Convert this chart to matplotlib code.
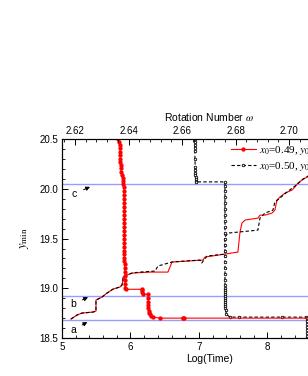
import numpy as np
import matplotlib
matplotlib.use('Agg')
import matplotlib.pyplot as plt
from matplotlib.ticker import MultipleLocator, FormatStrFormatter

plt.rcParams['font.family'] = ['Liberation Sans', 'DejaVu Sans']
plt.rcParams['mathtext.fontset'] = 'stix'

# --- data (Log(Time), y_min) ---
red_pts_x = [5.818, 5.832, 5.840, 5.847, 5.847, 5.847, 5.850, 5.850, 5.855, 5.861,
             5.868, 5.876, 5.884, 5.891, 5.898, 5.905, 5.905, 5.905, 5.908, 5.908,
             5.910, 5.910, 5.912, 5.912, 5.912, 5.912, 5.912, 5.912, 5.912, 5.912,
             5.912, 5.912, 5.912, 5.912, 5.912, 5.915, 5.915, 5.918, 5.918, 5.920,
             5.920, 5.922, 5.930, 6.170, 6.170, 6.175, 6.180, 6.260, 6.260, 6.260,
             6.260, 6.260, 6.265, 6.270, 6.280, 6.300, 6.330, 6.430, 6.760, 6.770,
             6.780, 9.300]
red_pts_y = [20.50, 20.47, 20.44, 20.41, 20.37, 20.34, 20.30, 20.27, 20.24, 20.21,
             20.17, 20.14, 20.11, 20.08, 20.05, 20.02, 19.98, 19.94, 19.90, 19.86,
             19.82, 19.78, 19.74, 19.70, 19.66, 19.62, 19.58, 19.54, 19.50, 19.46,
             19.42, 19.38, 19.34, 19.30, 19.27, 19.24, 19.20, 19.16, 19.12, 19.08,
             19.04, 19.00, 18.99, 18.99, 18.98, 18.96, 18.94, 18.94, 18.90, 18.86,
             18.83, 18.80, 18.77, 18.75, 18.74, 18.72, 18.71, 18.70, 18.70, 18.70,
             18.70, 18.70]

black_pts_x = [6.940, 6.940, 6.940, 6.940, 6.940, 6.942, 6.945, 6.945, 6.948, 6.948,
               6.950, 6.950, 6.955, 6.960, 7.380, 7.380, 7.380, 7.380, 7.380, 7.380,
               7.380, 7.380, 7.380, 7.380, 7.380, 7.380, 7.380, 7.380, 7.380, 7.380,
               7.380, 7.380, 7.380, 7.380, 7.380, 7.380, 7.380, 7.380, 7.380, 7.380,
               7.380, 7.380, 7.385, 7.385, 7.390, 7.400, 7.450, 7.580, 8.220, 8.560,
               8.580, 8.580, 8.580, 8.580, 8.580, 8.580, 8.580, 8.580]
black_pts_y = [20.50, 20.47, 20.44, 20.41, 20.38, 20.30, 20.22, 20.19, 20.16, 20.14,
               20.12, 20.10, 20.08, 20.07, 20.07, 20.03, 19.98, 19.92, 19.86, 19.80,
               19.74, 19.68, 19.62, 19.56, 19.50, 19.44, 19.38, 19.32, 19.26, 19.20,
               19.14, 19.08, 19.03, 19.00, 18.98, 18.96, 18.94, 18.92, 18.90, 18.88,
               18.86, 18.84, 18.82, 18.80, 18.78, 18.74, 18.71, 18.71, 18.71, 18.71,
               18.70, 18.67, 18.64, 18.61, 18.58, 18.55, 18.52, 18.50]

red_step_x = [5.131, 5.219, 5.292, 5.453, 5.496, 5.496, 5.526, 5.584, 5.657, 5.745,
              5.847, 5.876, 5.891, 5.891, 5.949, 6.022, 6.285, 6.547, 6.606, 7.058,
              7.088, 7.380, 7.569, 7.599, 7.628, 7.672, 7.861, 7.891, 7.964, 8.066,
              8.109, 8.139, 8.182, 8.255, 8.358, 8.401, 8.445, 8.504, 8.577, 8.766,
              9.060]
red_step_y = [18.691, 18.731, 18.751, 18.761, 18.771, 18.882, 18.892, 18.912, 18.952, 18.992,
              19.013, 19.033, 19.083, 19.113, 19.133, 19.153, 19.163, 19.163, 19.264, 19.284,
              19.314, 19.344, 19.364, 19.565, 19.656, 19.686, 19.706, 19.736, 19.736, 19.756,
              19.786, 19.887, 19.917, 19.957, 19.987, 20.018, 20.058, 20.088, 20.118, 20.190,
              20.290]

black_step_x = [5.131, 5.219, 5.292, 5.453, 5.496, 5.496, 5.526, 5.584, 5.657, 5.745,
                5.847, 5.876, 5.891, 5.891, 5.949, 6.022, 6.139, 6.358, 6.401, 6.606,
                6.796, 7.015, 7.040, 7.117, 7.380, 7.380, 7.423, 7.861, 7.891, 7.964,
                8.080, 8.109, 8.182, 8.285, 8.431, 8.518, 8.591, 8.912]
black_step_y = [18.691, 18.731, 18.751, 18.761, 18.771, 18.882, 18.892, 18.912, 18.952, 18.992,
                19.013, 19.033, 19.083, 19.113, 19.133, 19.153, 19.163, 19.173, 19.224, 19.264,
                19.274, 19.284, 19.254, 19.324, 19.344, 19.515, 19.555, 19.585, 19.706, 19.756,
                19.786, 19.867, 19.907, 19.967, 20.043, 20.098, 20.128, 20.240]

blue_levels = [20.05, 18.92, 18.68]
labels = ['c', 'b', 'a']
label_xy = [(5.18, 19.95), (5.16, 18.84), (5.16, 18.58)]
arrow_tip = [(5.41, 20.02), (5.38, 18.91), (5.37, 18.66)]

fig = plt.figure(figsize=(3.08, 3.76), dpi=100)
ax = fig.add_axes([0.2013, 0.101, 0.956, 0.529])

for lv in blue_levels:
    ax.axhline(lv, color='#9a9aff', lw=1.0, zorder=1)

ax.plot(red_step_x, red_step_y, color='red', lw=0.8, zorder=2)
ax.plot(black_step_x, black_step_y, color='black', lw=0.8, ls=(0, (3, 2)), zorder=2)

ax.plot(red_pts_x, red_pts_y, color='red', lw=0.8, marker='o', ms=2.1,
        mec='red', mfc='red', zorder=4, label=r'$x_0$=0.49, $y_0$=')
ax.plot(black_pts_x, black_pts_y, color='black', lw=0.8, ls=(0, (3, 2)),
        marker='o', ms=1.8, mec='black', mfc='white', mew=0.6, zorder=3,
        label=r'$x_0$=0.50, $y_0$=')

for t, xy, tip in zip(labels, label_xy, arrow_tip):
    ax.annotate(t, xy=tip, xytext=xy, fontsize=7.5, ha='center', va='center',
                arrowprops=dict(arrowstyle='-|>', color='black', lw=0.7,
                                mutation_scale=6, shrinkA=3, shrinkB=0))

ax.set_xlim(5, 9.3)
ax.set_ylim(18.5, 20.5)
ax.xaxis.set_major_locator(MultipleLocator(1))
ax.xaxis.set_minor_locator(MultipleLocator(0.2))
ax.yaxis.set_major_locator(MultipleLocator(0.5))
ax.yaxis.set_minor_locator(MultipleLocator(0.1))
ax.yaxis.set_major_formatter(FormatStrFormatter('%.1f'))
ax.tick_params(which='both', direction='in', labelsize=7, right=True)
ax.tick_params(which='major', length=4, width=0.7, pad=3)
ax.tick_params(which='minor', length=2, width=0.6)
for s in ax.spines.values():
    s.set_linewidth(0.8)
ax.set_xlabel('Log(Time)', fontsize=7.5, labelpad=1)
ax.set_ylabel(r'$y_{\rm min}$', fontsize=9, labelpad=6)

# top axis: rotation number
ax2 = ax.twiny()
ax2.set_xlim(2.6151, 2.7252)
ax2.xaxis.set_major_locator(MultipleLocator(0.02))
ax2.xaxis.set_minor_locator(MultipleLocator(0.004))
ax2.xaxis.set_major_formatter(FormatStrFormatter('%.2f'))
ax2.tick_params(which='both', direction='in', labelsize=7)
ax2.tick_params(which='major', length=4, width=0.7, pad=2)
ax2.tick_params(which='minor', length=2, width=0.6)
ax2.set_xlabel(r'Rotation Number $\omega$', fontsize=7.5, labelpad=4)

ax.legend(loc='upper left', bbox_to_anchor=(0.548, 1.015), frameon=False,
          prop={'family': 'Liberation Serif', 'size': 8}, handlelength=2.2,
          handletextpad=0.3, labelspacing=0.25, borderaxespad=0.3)

fig.savefig('out.png', dpi=100)
